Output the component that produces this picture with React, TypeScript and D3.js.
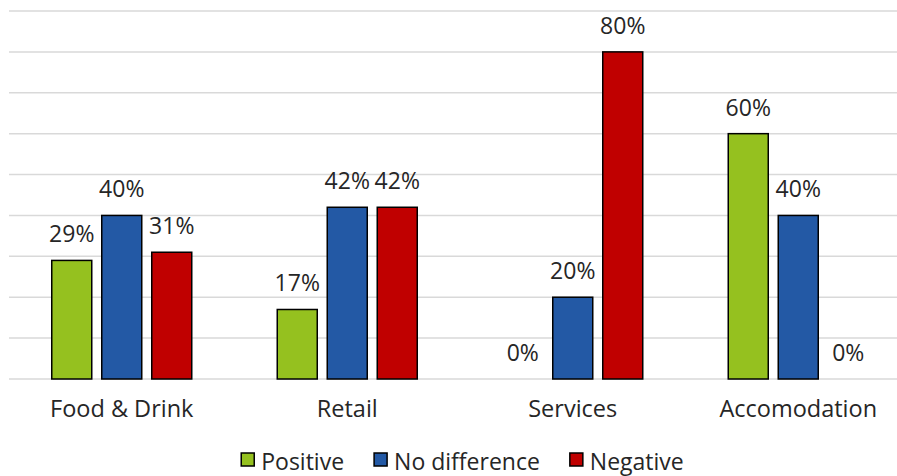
import React, { useEffect, useRef } from "react";
import * as d3 from "d3";

const categories = ["Food & Drink", "Retail", "Services", "Accomodation"];
const seriesNames = ["Positive", "No difference", "Negative"];
const positive = [29, 17, 0, 60];
const noDifference = [40, 42, 20, 40];
const negative = [31, 42, 80, 0];
const yTicks = [0, 10, 20, 30, 40, 50, 60, 70, 80, 90];

const colors = ["#95C11F", "#2359A5", "#C00000"];
const FONT = "'Open Sans', Lato, sans-serif";
const TEXT = "#262626";

export default function App() {
  const ref = useRef<SVGSVGElement | null>(null);

  useEffect(() => {
    const W = 897, H = 476;
    const svg = d3.select(ref.current);
    svg.selectAll("*").remove();

    const series = [positive, noDifference, negative];
    const x = d3.scaleBand<string>().domain(categories).range([9, 911]);
    const y = d3.scaleLinear().domain([0, 90]).range([379, 11]);
    const barW = 40;
    const step = 50;

    // gridlines
    svg.append("g")
      .selectAll("line")
      .data(yTicks)
      .join("line")
      .attr("x1", 9)
      .attr("x2", W)
      .attr("y1", (d) => y(d))
      .attr("y2", (d) => y(d))
      .attr("stroke", "#D9D9D9")
      .attr("stroke-width", 1.5);

    series.forEach((vals, si) => {
      const g = svg.append("g");
      const xPos = (c: string) => x(c)! + x.bandwidth() / 2 + (si - 1) * step - barW / 2;
      g.selectAll("rect")
        .data(categories.map((c, i) => ({ c, v: vals[i] })).filter((d) => d.v > 0))
        .join("rect")
        .attr("x", (d) => xPos(d.c))
        .attr("y", (d) => y(d.v))
        .attr("width", barW)
        .attr("height", (d) => y(0) - y(d.v))
        .attr("fill", colors[si])
        .attr("stroke", "#000")
        .attr("stroke-width", 1.5);
      g.selectAll("text")
        .data(categories.map((c, i) => ({ c, v: vals[i] })))
        .join("text")
        .attr("x", (d) => xPos(d.c) + barW / 2)
        .attr("y", (d) => y(d.v) - 18)
        .attr("text-anchor", "middle")
        .attr("font-family", FONT)
        .attr("font-size", 23)
        .attr("fill", TEXT)
        .text((d) => `${d.v}%`);
    });

    // category labels
    svg.append("g")
      .selectAll("text")
      .data(categories)
      .join("text")
      .attr("x", (d) => x(d)! + x.bandwidth() / 2)
      .attr("y", 417)
      .attr("text-anchor", "middle")
      .attr("font-family", FONT)
      .attr("font-size", 23.5)
      .attr("fill", TEXT)
      .text((d) => d);

    // legend
    const lg = svg.append("g");
    const items = seriesNames.map((name, i) => {
      const g = lg.append("g");
      g.append("rect")
        .attr("x", 0)
        .attr("y", -17)
        .attr("width", 13)
        .attr("height", 13)
        .attr("fill", colors[i])
        .attr("stroke", "#000")
        .attr("stroke-width", 1.5);
      const t = g.append("text")
        .attr("x", 20)
        .attr("y", 0)
        .attr("font-family", FONT)
        .attr("font-size", 23)
        .attr("fill", TEXT)
        .text(name);
      const w = 20 + (t.node() as SVGTextElement).getComputedTextLength();
      return { g, w };
    });
    const gap = 30;
    const total = d3.sum(items, (d) => d.w) + gap * (items.length - 1);
    let cx = (W - total) / 2 + 14;
    items.forEach((it) => {
      it.g.attr("transform", `translate(${cx},470)`);
      cx += it.w + gap;
    });
  }, []);

  return (
    <svg
      ref={ref}
      width={897}
      height={476}
      style={{ position: "absolute", left: 0, top: 0, background: "#fff" }}
    />
  );
}
